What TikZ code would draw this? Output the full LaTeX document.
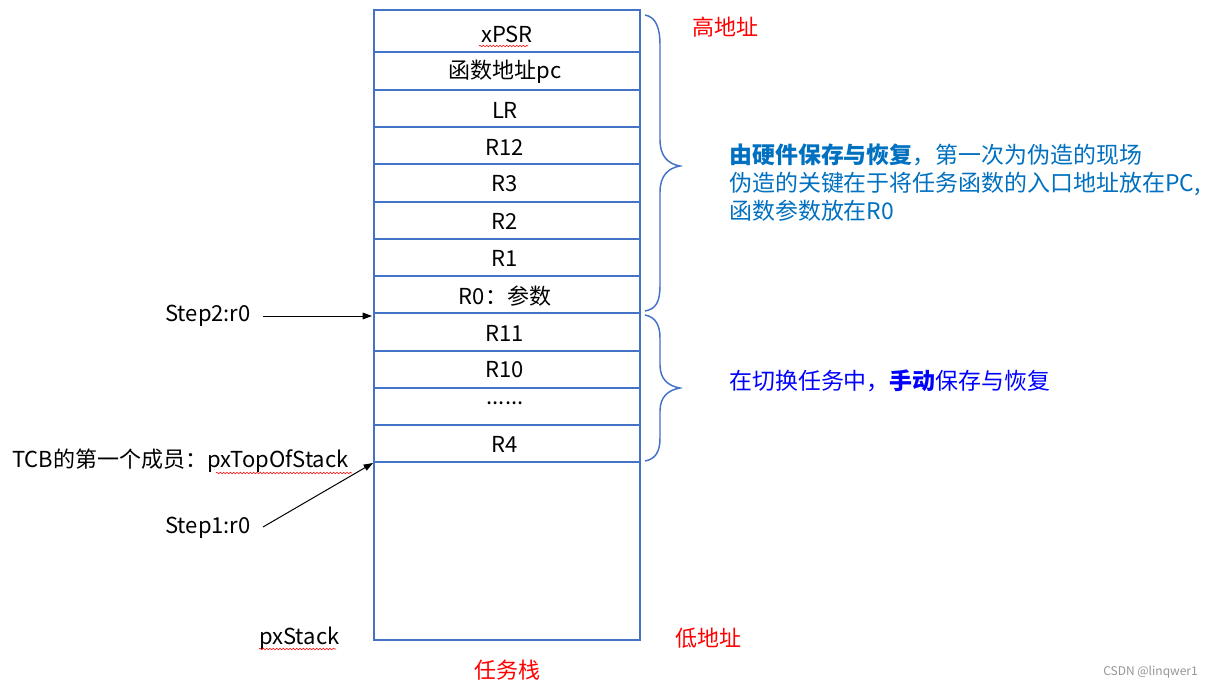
\documentclass[tikz,border=0pt]{standalone}
\usepackage{fontspec}
\setmainfont{Noto Sans CJK SC}
\usetikzlibrary{arrows.meta,decorations.pathmorphing}
\definecolor{stackblue}{RGB}{68,114,196}
\definecolor{noteblue}{RGB}{0,112,192}
\definecolor{manblue}{RGB}{0,0,255}
\definecolor{wmgray}{RGB}{150,150,150}
\tikzset{
  stackline/.style={draw=stackblue, line width=1.5pt},
  bracestyle/.style={draw=stackblue, line width=1.1pt},
  celltext/.style={inner sep=0pt, anchor=center},
  lbl/.style={inner sep=0pt},
  redlbl/.style={inner sep=0pt, text=red},
  ptr/.style={draw=black, line width=0.75pt, -{Triangle[length=7pt,width=5pt]}},
  spell/.style={draw=red, line width=0.4pt, decorate, decoration={snake, amplitude=0.6pt, segment length=2.5pt}}
}
\begin{document}
\begin{tikzpicture}[x=0.75pt,y=-0.75pt, font=\fontsize{16.5}{20}\selectfont]
\path[use as bounding box, fill=white] (0,0) rectangle (1212,689);
% stack
\draw[stackline] (374,10) rectangle (640,640);
\foreach \yy in {52,90,127,164,202,239,276,313,351,388,425,462}
  \draw[stackline] (374,\yy) -- (640,\yy);
\node[celltext] (xpsr) at (507,34) {xPSR};
\node[celltext] (pc)   at (505,72) {函数地址pc};
\node[celltext] (lr)   at (505,110) {LR};
\node[celltext] (r12)  at (505,147) {R12};
\node[celltext] (r3)   at (505,184) {R3};
\node[celltext] (r2)   at (505,221) {R2};
\node[celltext] (r1)   at (505,258) {R1};
\node[celltext] (r0)   at (505,296) {R0：参数};
\node[celltext] (r11)  at (505,333) {R11};
\node[celltext] (r10)  at (505,370) {R10};
\node[celltext] (dots) at (505,403) {......};
\node[celltext] (r4)   at (505,444) {R4};
\draw[spell] (479,46) -- (528,46);
% braces
\draw[bracestyle] (645,15) .. controls (656,17) and (660,28) .. (660,45) -- (660,140)
  .. controls (660,156) and (668,164) .. (680,166)
  .. controls (668,168) and (660,176) .. (660,192) -- (660,285)
  .. controls (660,302) and (656,309) .. (645,311);
\draw[bracestyle] (645,315) .. controls (656,317) and (660,326) .. (660,338) -- (660,365)
  .. controls (660,379) and (668,386) .. (680,388)
  .. controls (668,390) and (660,397) .. (660,411) -- (660,438)
  .. controls (660,451) and (656,459) .. (645,461);
% right labels
\node[redlbl, anchor=west] (high) at (692,27) {高地址};
\node[redlbl, anchor=west] (low) at (675,638) {低地址};
\node[redlbl] (stackname) at (507,670) {任务栈};
\node[lbl, anchor=north west, text=noteblue, align=left, font=\fontsize{17.2}{21}\selectfont] (hwnote) at (729,144)
  {\textbf{由硬件保存与恢复}，第一次为伪造的现场\\伪造的关键在于将任务函数的入口地址放在PC,\\函数参数放在R0};
\node[lbl, anchor=west, text=manblue, font=\fontsize{17.2}{21}\selectfont] (swnote) at (729,381) {在切换任务中，\textbf{手动}保存与恢复};
% left labels
\node[lbl, anchor=east] (step2) at (251,316) {Step2:r0};
\node[lbl, anchor=west] (tcb) at (12,461) {TCB的第一个成员：pxTopOfStack};
\node[lbl, anchor=east] (step1) at (251,528) {Step1:r0};
\node[lbl, anchor=west] (pxstack) at (259,638) {pxStack};
\draw[spell] (216,473) -- (352,473);
\draw[spell] (259,649) -- (336,649);
\coordinate (top2) at (372,316);
\coordinate (top1) at (373,463);
\draw[ptr] (step2.east) ++(12,0) -- (top2);
\draw[ptr] (step1.east) ++(12,-1) -- (top1);
\node[lbl, anchor=east, text=wmgray, font=\fontsize{9}{11}\selectfont] (wm) at (1198,672) {CSDN @linqwer1};
\end{tikzpicture}
\end{document}
